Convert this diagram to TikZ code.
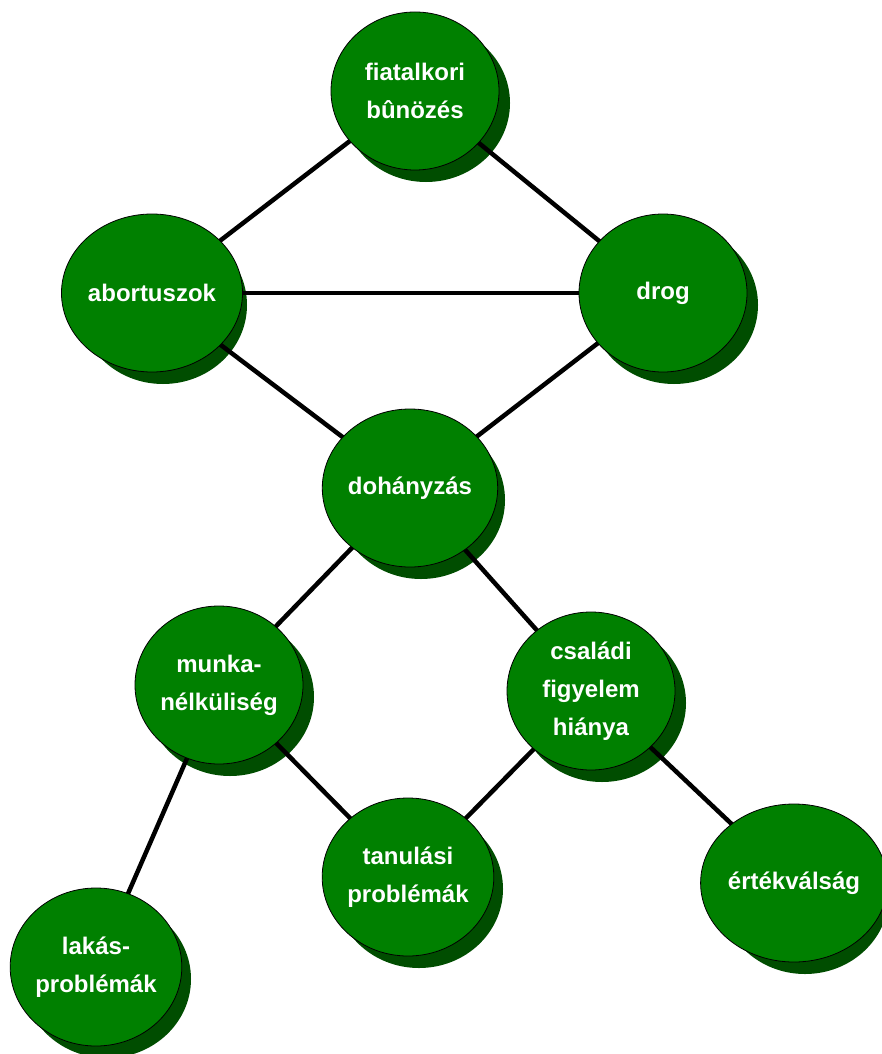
\documentclass[tikz,border=0pt]{standalone}
\usepackage{fontspec}
\setmainfont{Liberation Sans}
\usetikzlibrary{shapes.geometric}
\definecolor{bubgreen}{RGB}{0,128,0}
\definecolor{shadowgreen}{RGB}{0,77,0}
\pgfdeclarelayer{shadowlayer}
\pgfdeclarelayer{linelayer}
\pgfsetlayers{shadowlayer,linelayer,main}
\tikzset{
  bub/.style={ellipse, draw=black, line width=0.8pt, fill=bubgreen,
    minimum width=168pt, minimum height=158pt, inner sep=0pt,
    text=white, align=center,
    font=\fontsize{24}{38}\selectfont\bfseries},
  conn/.style={draw=black, line width=4.5pt},
  shad/.style={fill=shadowgreen}
}
\begin{document}
\begin{tikzpicture}[x=1pt,y=-1pt]
\useasboundingbox (0,0) rectangle (882,1054);
\node[bub] (n1) at (415,91) {fiatalkori\\bûnözés};
\node[bub] (n2) at (152,293) {abortuszok};
\node[bub] (n3) at (663,293) {drog};
\node[bub] (n4) at (410,488) {dohányzás};
\node[bub] (n5) at (219,685) {munka-\\nélküliség};
\node[bub] (n6) at (591,691) {családi\\figyelem\\hiánya};
\node[bub] (n7) at (408,877) {tanulási\\problémák};
\node[bub] (n8) at (794,883) {értékválság};
\node[bub] (n9) at (96,967) {lakás-\\problémák};
\begin{pgfonlayer}{shadowlayer}
\foreach \n in {n1,n2,n3,n4,n5,n6,n7,n8,n9}{
  \fill[shad] ([shift={(11,12)}]\n.center) ellipse [x radius=84, y radius=79];
}
\end{pgfonlayer}
\begin{pgfonlayer}{linelayer}
\draw[conn] (n1.center) -- (n2.center);
\draw[conn] (n1.center) -- (n3.center);
\draw[conn] (n2.center) -- (n3.center);
\draw[conn] (n2.center) -- (n4.center);
\draw[conn] (n3.center) -- (n4.center);
\draw[conn] (n4.center) -- (n5.center);
\draw[conn] (n4.center) -- (n6.center);
\draw[conn] (n5.center) -- (n9.center);
\draw[conn] (n5.center) -- (n7.center);
\draw[conn] (n6.center) -- (n7.center);
\draw[conn] (n6.center) -- (n8.center);
\end{pgfonlayer}
\end{tikzpicture}
\end{document}
